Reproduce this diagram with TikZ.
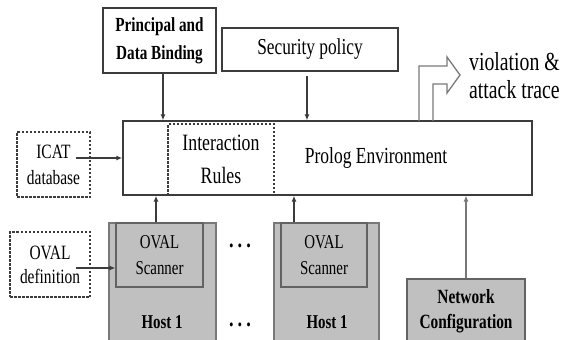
\documentclass[tikz,border=0pt]{standalone}
\usepackage{fontspec}
\setmainfont{Liberation Serif}[FakeStretch=0.76]
\usetikzlibrary{arrows.meta,positioning}
\definecolor{edgegray}{RGB}{60,60,60}
\definecolor{rimgray}{RGB}{120,120,120}
\definecolor{hostgray}{RGB}{192,192,192}

\begin{document}
\begin{tikzpicture}[x=1pt, y=-1pt,
  every node/.style={font=\fontsize{20}{26}\selectfont, align=center, inner sep=0pt, text=black},
  box/.style={draw=edgegray, line width=1.3pt},
  dbox/.style={draw=edgegray, line width=1.4pt, dash pattern=on 2.5pt off 1.5pt},
  hostbox/.style={draw=rimgray, line width=1.2pt, fill=hostgray},
  arr/.style={-{Latex[length=6pt,width=5pt]}, line width=1.3pt, draw=edgegray}]
  \useasboundingbox (0,0) rectangle (563,340);
  % top inputs
  \node[box, minimum width=113, minimum height=65, font=\fontsize{20}{28}\selectfont\bfseries] (princ) at (159.5,40.5) {Principal and\\Data Binding};
  \node[box, minimum width=176, minimum height=43, font=\fontsize{22.8}{27}\selectfont] (secpol) at (310,49.5) {Security policy};
  % prolog environment
  \node[box, minimum width=409, minimum height=74] (prolog) at (327.5,158) {};
  \node[font=\fontsize{23}{28}\selectfont] (prologtxt) at (376,158) {Prolog Environment};
  \node[dbox, minimum width=106, minimum height=71, font=\fontsize{23.4}{33}\selectfont] (rules) at (221,159.5) {Interaction\\Rules};
  \node[dbox, minimum width=73, minimum height=65, font=\fontsize{20.3}{26}\selectfont] (icat) at (53.5,164.5) {ICAT\\database};
  \node[dbox, minimum width=80, minimum height=65, font=\fontsize{20.3}{24}\selectfont] (ovaldef) at (50,264.5) {OVAL\\definition};
  % hosts
  \node[hostbox, minimum width=107, minimum height=120] (host1) at (162.5,283) {};
  \node[hostbox, draw=edgegray!80, minimum width=87, minimum height=64, font=\fontsize{19.6}{26}\selectfont] (scan1) at (159.5,255) {OVAL\\Scanner};
  \node[font=\fontsize{19.6}{24}\selectfont\bfseries] (hostlbl1) at (162,322) {Host 1};
  \node[hostbox, minimum width=105, minimum height=120] (host2) at (326.5,283) {};
  \node[hostbox, draw=edgegray!80, minimum width=86, minimum height=64, font=\fontsize{19.6}{26}\selectfont] (scan2) at (324,255) {OVAL\\Scanner};
  \node[font=\fontsize{19.6}{24}\selectfont\bfseries] (hostlbl2) at (327,322) {Host 1};
  \node[font=\fontsize{24}{24}\selectfont\bfseries] (dotsa) at (240,246) {.\,.\,.};
  \node[font=\fontsize{24}{24}\selectfont\bfseries] (dotsb) at (240,325) {.\,.\,.};
  \node[hostbox, draw=edgegray!80, minimum width=118, minimum height=65, font=\fontsize{20.2}{25}\selectfont\bfseries] (netcfg) at (466,311.5) {Network\\Configuration};
  % connectors
  \coordinate (icatout) at (76,158);
  \coordinate (ovalout) at (76,268);
  \draw[arr] ([xshift=3.5]princ.south) -- ([xshift=3.5]princ.south |- prolog.north);
  \draw[arr, shorten <=4pt] ([xshift=-3]secpol.south) -- ([xshift=-3]secpol.south |- prolog.north);
  \draw[arr] (icatout) -- (icatout -| prolog.west);
  \draw[arr] (ovalout) -- (ovalout -| scan1.west);
  \draw[arr] ([xshift=-3.5]scan1.north) -- ([xshift=-3.5]scan1.north |- prolog.south);
  \draw[arr] ([xshift=-30]scan2.north) -- ([xshift=-30]scan2.north |- prolog.south);
  \draw[arr, draw=rimgray, line width=1.1pt] (netcfg.north) -- (netcfg.north |- prolog.south);
  % output arrow
  \draw[draw=rimgray, line width=1.3pt] (419,121) -- (419,66) -- (447,66) -- (447,57) -- (460,75) -- (447,93) -- (447,84) -- (433,84) -- (433,121);
  \node[anchor=west, align=left, font=\fontsize{26}{28}\selectfont] (trace) at (469,76) {violation \&\\attack trace};
\end{tikzpicture}
\end{document}
